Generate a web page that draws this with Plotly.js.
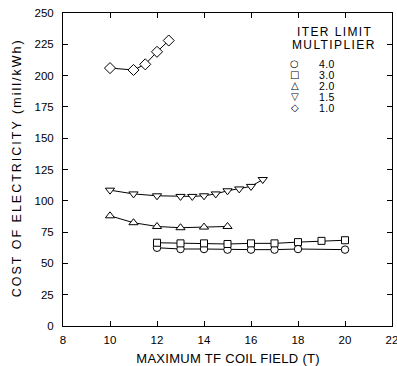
<!DOCTYPE html>
<html><head><meta charset="utf-8">
<script src="https://cdn.plot.ly/plotly-3.0.1.min.js"></script>
<style>html,body{margin:0;padding:0;background:#fff}#c{width:397px;height:366px}
.annotation[data-index="0"] text{letter-spacing:0.3px}
.annotation[data-index="1"] text{letter-spacing:2px}
.annotation[data-index="2"] text,.annotation[data-index="3"] text{letter-spacing:1.4px}
.annotation[data-index="5"] text,.annotation[data-index="7"] text,.annotation[data-index="9"] text,.annotation[data-index="11"] text,.annotation[data-index="13"] text{letter-spacing:0.4px}
</style>
</head><body><div id="c"></div>
<script>
// Data
const x40 = [12, 13, 14, 15, 16, 17, 18, 20];
const y40 = [62.5, 61.5, 61.5, 61, 61, 61, 61.5, 61];
const x30 = [12, 13, 14, 15, 16, 17, 18, 19, 20];
const y30 = [66.5, 66, 66, 65.5, 66, 66, 67, 68, 68.5];
const x20 = [10, 11, 12, 13, 14, 15];
const y20 = [88, 82.5, 79.5, 78.5, 79, 79.5];
const x15 = [10, 11, 12, 13, 13.5, 14, 14.5, 15, 15.5, 16, 16.5];
const y15 = [108.5, 105.5, 104, 103.5, 103.5, 104, 105.5, 108, 109.5, 111.5, 117];
const x10 = [10, 11, 11.5, 12, 12.5];
const y10 = [206, 204.5, 209, 219, 228];
const seriesNames = ["4.0", "3.0", "2.0", "1.5", "1.0"];
const legendSymbols = ["○", "□", "△", "▽", "◇"];
const legendTitle1 = "ITER LIMIT";
const legendTitle2 = "MULTIPLIER";
const xTitle = "MAXIMUM TF COIL FIELD (T)";
const yTitle = "COST OF ELECTRICITY (mill/kWh)";
const xTicks = [8, 10, 12, 14, 16, 18, 20, 22];
const yTicks = [0, 25, 50, 75, 100, 125, 150, 175, 200, 225, 250];

const FONT = "Liberation Sans, Arial, sans-serif";
function tr(x, y, sym, sz) {
  return {x: x, y: y, type: "scatter", mode: "lines+markers",
    line: {color: "#000", width: 1},
    marker: {symbol: sym, size: sz, color: "#fff", line: {color: "#000", width: 1}},
    showlegend: false, cliponaxis: false};
}
const data = [
  tr(x40, y40, "circle", 7.5),
  tr(x30, y30, "square", 7),
  tr(x20, y20, "triangle-up", 8),
  tr(x15, y15, "triangle-down", 8),
  tr(x10, y10, "diamond", 8.5)
];

const ann = [];
function addAnn(o) { ann.push(Object.assign({xref: "paper", yref: "paper", showarrow: false,
  xanchor: "center", yanchor: "middle"}, o)); }

addAnn({x: 0.5, y: -0.1054, text: xTitle, font: {family: FONT, size: 13, color: "#000"}});
addAnn({x: -0.140, y: 0.507, text: yTitle, textangle: -90, font: {family: FONT, size: 12.5, color: "#000"}});
addAnn({x: 0.827, y: 0.940, text: legendTitle1, font: {family: FONT, size: 12, color: "#000"}, height: 11, width: 100, borderpad: 0});
addAnn({x: 0.824, y: 0.900, text: legendTitle2, font: {family: FONT, size: 12, color: "#000"}, height: 11, width: 100, borderpad: 0});
const rowY = [0.8371, 0.8026, 0.7681, 0.7336, 0.6991];
seriesNames.forEach((n, i) => {
  addAnn({x: 0.705, y: rowY[i], text: legendSymbols[i], height: 9, borderpad: 0,
    font: {family: "DejaVu Sans", size: 10, color: "#000"}});
  addAnn({x: 0.802, y: rowY[i], text: n, height: 9, borderpad: 0, width: 24,
    font: {family: FONT, size: 10.5, color: "#000"}});
});

const layout = {
  width: 397, height: 366,
  margin: {l: 63, r: 5, t: 13, b: 40},
  paper_bgcolor: "#fff", plot_bgcolor: "#fff",
  font: {family: FONT, size: 11.5, color: "#000"},
  xaxis: {range: [8, 22], tickvals: xTicks, ticktext: xTicks.map(String),
    ticks: "inside", ticklen: 5, tickcolor: "#000", showline: true, linecolor: "#000",
    linewidth: 1, mirror: "ticks", showgrid: false, zeroline: false,
    ticklabelstandoff: 3, ticklabeloverflow: "allow"},
  yaxis: {range: [0, 250], tickvals: yTicks, ticktext: yTicks.map(String),
    ticks: "inside", ticklen: 5, tickcolor: "#000", showline: true, linecolor: "#000",
    linewidth: 1, mirror: "ticks", showgrid: false, zeroline: false,
    ticklabelstandoff: 6},
  annotations: ann,
  showlegend: false
};
Plotly.newPlot("c", data, layout, {displayModeBar: false, staticPlot: true});
</script></body></html>
